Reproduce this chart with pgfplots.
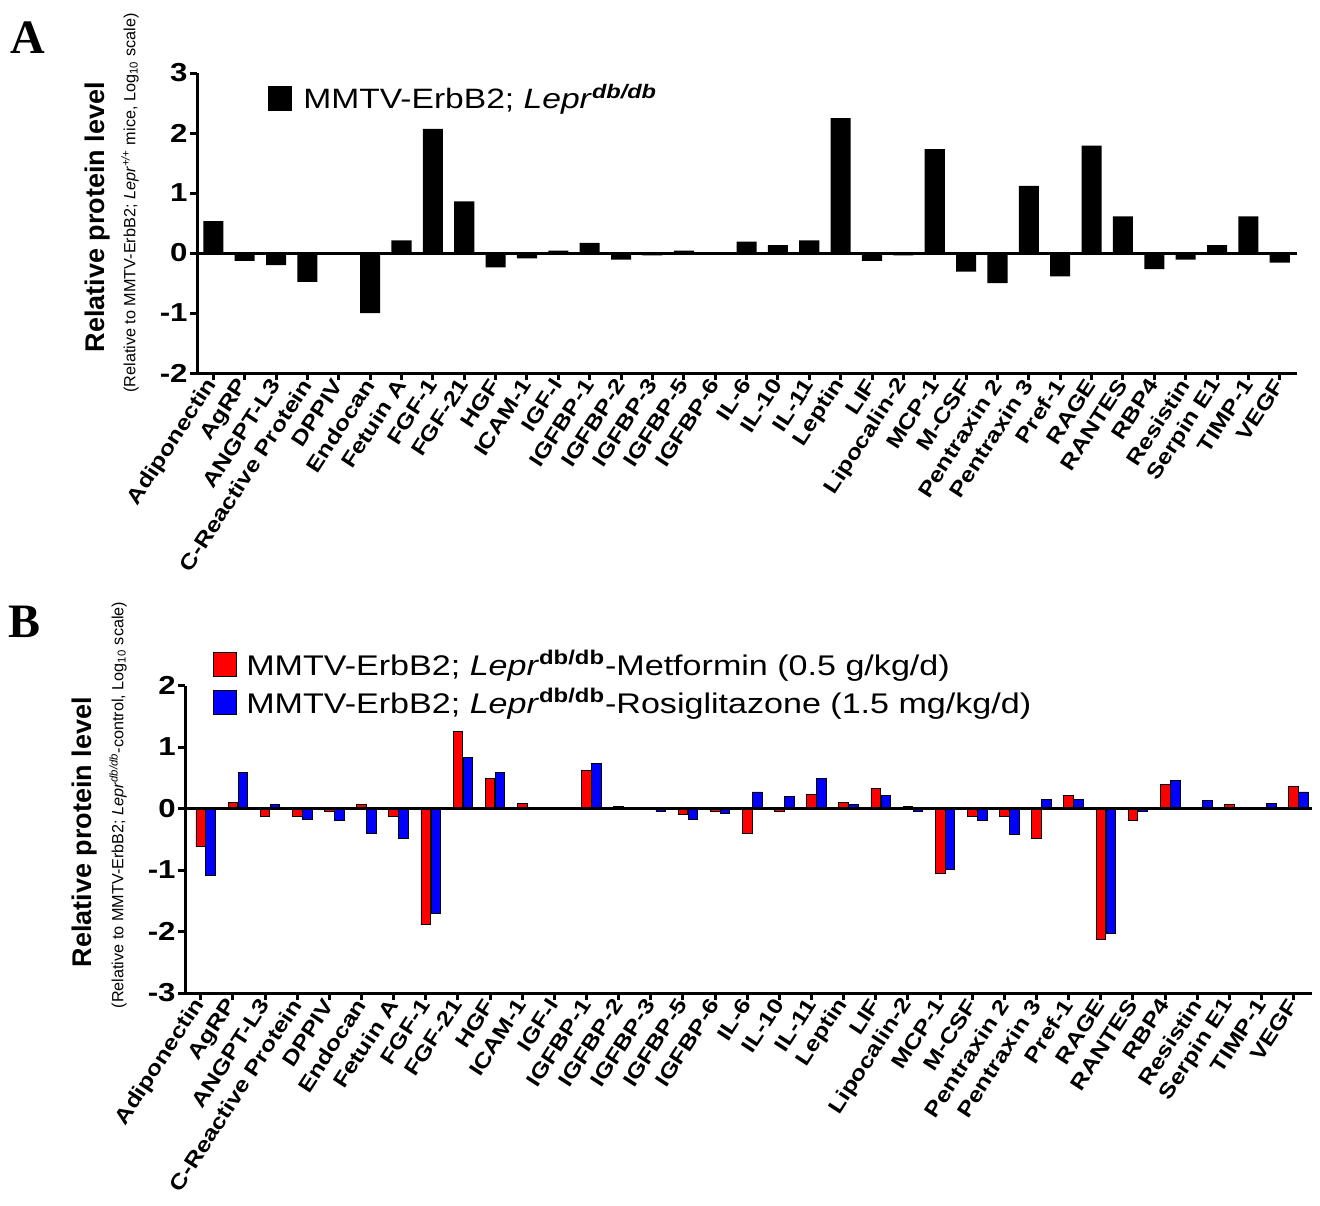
\documentclass[border=0pt]{standalone}
\usepackage{fontspec}
\setmainfont{Liberation Sans}
\newfontfamily\wide{Liberation Sans}[FakeStretch=1.2]
\newfontfamily\serif{Liberation Serif}
\usepackage{pgfplots}
\pgfplotsset{compat=1.18}
\usepackage{pgfplotstable}

\pgfplotstableread{
x y
0 0.53
1 -0.13
2 -0.20
3 -0.48
4 0.00
5 -1.00
6 0.21
7 2.07
8 0.86
9 -0.24
10 -0.09
11 0.04
12 0.17
13 -0.11
14 -0.04
15 0.04
16 0.00
17 0.19
18 0.13
19 0.21
20 2.25
21 -0.13
22 -0.04
23 1.73
24 -0.31
25 -0.50
26 1.12
27 -0.39
28 1.79
29 0.61
30 -0.27
31 -0.11
32 0.13
33 0.61
34 -0.16
}\dataA

\pgfplotstableread{
x r b
0 -0.62 -1.08
1 0.10 0.58
2 -0.12 0.06
3 -0.12 -0.17
4 -0.05 -0.19
5 0.06 -0.40
6 -0.12 -0.49
7 -1.89 -1.70
8 1.26 0.83
9 0.49 0.58
10 0.08 0.00
11 0.00 0.00
12 0.62 0.73
13 0.04 0.00
14 -0.01 -0.05
15 -0.10 -0.17
16 -0.05 -0.08
17 -0.40 0.27
18 -0.05 0.19
19 0.23 0.49
20 0.10 0.06
21 0.32 0.21
22 0.04 -0.05
23 -1.05 -0.99
24 -0.12 -0.19
25 -0.12 -0.42
26 -0.49 0.15
27 0.21 0.15
28 -2.13 -2.03
29 -0.19 -0.05
30 0.39 0.45
31 0.00 0.13
32 0.06 0.00
33 0.00 0.08
34 0.36 0.27
}\dataB

\pgfplotsset{
  mystyle/.style={
    scale only axis,
    axis x line=bottom, axis y line=left,
    axis line style={-, line width=1.5pt},
    tick align=outside,
    major tick length=3.5pt,
    tick style={black, line width=1.5pt},
    xtick={0,...,34},
    xticklabels={Adiponectin,AgRP,ANGPT-L3,C-Reactive Protein,DPPIV,Endocan,Fetuin A,FGF-1,FGF-21,HGF,ICAM-1,IGF-I,IGFBP-1,IGFBP-2,IGFBP-3,IGFBP-5,IGFBP-6,IL-6,IL-10,IL-11,Leptin,LIF,Lipocalin-2,MCP-1,M-CSF,Pentraxin 2,Pentraxin 3,Pref-1,RAGE,RANTES,RBP4,Resistin,Serpin E1,TIMP-1,VEGF},
    x tick label style={rotate=57, anchor=east, font=\wide\bfseries\fontsize{10.5}{10.5}\selectfont, inner sep=0.5pt},
    y tick label style={font=\wide\bfseries\fontsize{13}{13}\selectfont, inner sep=1pt},
    legend cell align=left,
    legend image code/.code={\draw[#1, line width=0.5pt] (0pt,-6pt) rectangle (11.5pt,6pt);},
    clip=false,
  }
}

\begin{document}
\begin{tikzpicture}[x=0.5pt,y=-0.5pt]
\path[use as bounding box] (0,0) rectangle (1320,1205);

% Panel letters
\node[font=\serif\bfseries\fontsize{24}{24}\selectfont] at (28,38) {A};
\node[font=\serif\bfseries\fontsize{24}{24}\selectfont] at (25,622) {B};

% ---------------- Panel A ----------------
\begin{axis}[mystyle,
  at={(98.5pt,-186.5pt)}, anchor=south west,
  width=550pt, height=150pt,
  xmin=-0.52, xmax=34.55, ymin=-2, ymax=3,
  ytick={-2,-1,0,1,2,3}, yticklabels={-2,-1,0,1,2,3},
  legend style={draw=none, fill=none, at={(0.0645,0.977)}, anchor=north west,
    font=\wide\fontsize{14}{15}\selectfont, inner sep=0pt},
]
\addplot[ybar, bar width=0.64, fill=black, draw=none] table[x=x, y=y] {\dataA};
\addlegendentry{\hspace{3.5pt}MMTV-ErbB2; \textit{Lepr}\textsuperscript{\bfseries\itshape db/db}}
\addplot[line width=1.5pt, black, forget plot] coordinates {(-0.52,0) (34.55,0)};
\end{axis}

\node[rotate=90, font=\bfseries\fontsize{13.5}{14}\selectfont] at (98,217) {Relative protein level};
\node[rotate=90, font=\fontsize{8.1}{9}\selectfont] at (130,203) {(Relative to MMTV-ErbB2; \textit{Lepr}\textsuperscript{\textit{+/+}} mice, Log\textsubscript{10} scale)};

% ---------------- Panel B ----------------
\begin{axis}[mystyle,
  at={(92.5pt,-496.5pt)}, anchor=south west,
  width=563.5pt, height=153.75pt,
  xmin=-0.49, xmax=34.57, ymin=-3, ymax=2,
  ytick={-3,-2,-1,0,1,2}, yticklabels={-3,-2,-1,0,1,2},
  legend style={draw=none, fill=none, at={(0.0248,1.129)}, anchor=north west,
    font=\wide\fontsize{14.2}{15}\selectfont, inner sep=0pt, row sep=1.2pt},
]
\addplot[ybar, bar width=0.3, bar shift=0, fill=red, draw=black, line width=0.4pt] table[x=x, y=r] {\dataB};
\addlegendentry{\hspace{2.5pt}MMTV-ErbB2; \textit{Lepr}\textsuperscript{\bfseries db/db}-Metformin (0.5 g/kg/d)}
\addplot[ybar, bar width=0.3, bar shift=0.31, fill=blue, draw=black, line width=0.4pt] table[x=x, y=b] {\dataB};
\addlegendentry{\hspace{2.5pt}MMTV-ErbB2; \textit{Lepr}\textsuperscript{\bfseries db/db}-Rosiglitazone (1.5 mg/kg/d)}
\addplot[line width=1.5pt, black, forget plot] coordinates {(-0.49,0) (34.57,0)};
\end{axis}

\node[rotate=90, font=\bfseries\fontsize{13.5}{14}\selectfont] at (85,832) {Relative protein level};
\node[rotate=90, font=\fontsize{8.1}{9}\selectfont] at (118,805) {(Relative to MMTV-ErbB2; \textit{Lepr}\textsuperscript{\textit{db/db}}-control, Log\textsubscript{10} scale)};
\end{tikzpicture}
\end{document}
